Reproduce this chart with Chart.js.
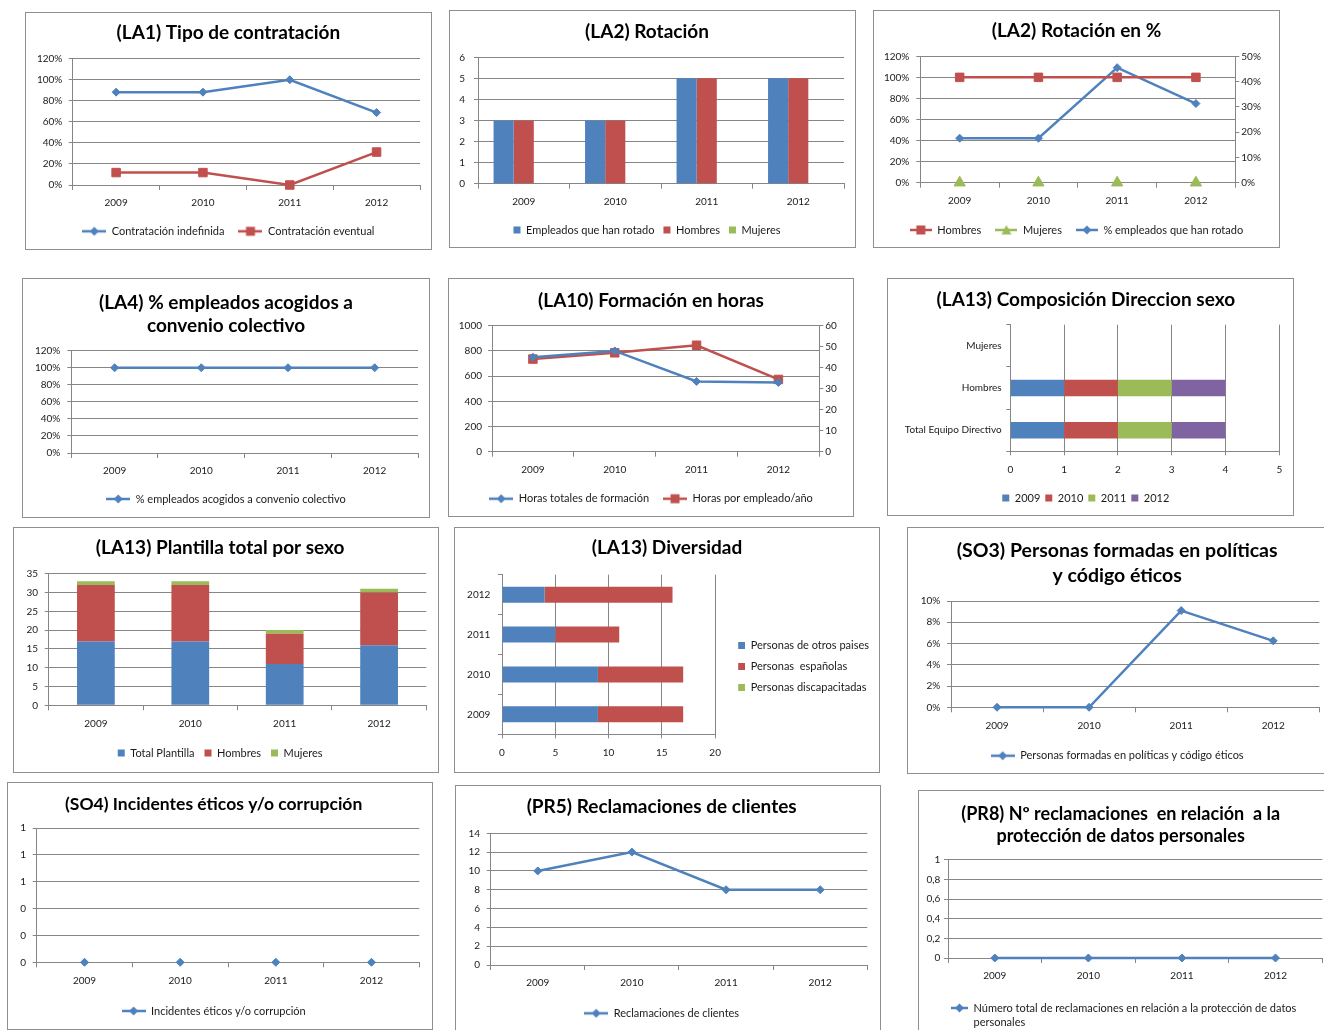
<!DOCTYPE html>
<html lang="es">
<head>
<meta charset="utf-8">
<title>Indicadores sociales 2009-2012</title>
<script src="https://cdn.jsdelivr.net/npm/chart.js@4.4.1/dist/chart.umd.min.js"></script>
<style>
  html, body { margin: 0; padding: 0; background: #fff; width: 1324px; height: 1030px; overflow: hidden; }
  .panel { position: absolute; box-sizing: border-box; border: 1px solid #8f8f8f; background: #fff; }
  .panel canvas { position: absolute; left: 0; top: 0; }
</style>
</head>
<body>
<script>
// ---- data ----
const years = ['2009', '2010', '2011', '2012'];

const contratacionIndefinida = [88.2, 88.2, 100, 68.8];
const contratacionEventual = [11.8, 11.8, 0, 31.3];

const rotadoEmpleados = [3, 3, 5, 5];
const rotadoHombres = [3, 3, 5, 5];
const rotadoMujeres = [0, 0, 0, 0];

const rotacionPctHombres = [100, 100, 100, 100];
const rotacionPctMujeres = [0, 0, 0, 0];
const rotacionPctEmpleados = [17.6, 17.6, 45.5, 31.3];

const convenioColectivo = [100, 100, 100, 100];

const horasTotales = [750, 800, 558, 550];
const horasPorEmpleado = [44.1, 47.1, 50.7, 34.4];

const direccionCategorias = ['Total Equipo Directivo', 'Hombres', 'Mujeres'];
const direccion2009 = [1, 1, 0];
const direccion2010 = [1, 1, 0];
const direccion2011 = [1, 1, 0];
const direccion2012 = [1, 1, 0];

const plantillaTotal = [17, 17, 11, 16];
const plantillaHombres = [15, 15, 8, 14];
const plantillaMujeres = [1, 1, 1, 1];

const otrosPaises = [9, 9, 5, 4];
const espanolas = [8, 8, 6, 12];
const discapacitadas = [0, 0, 0, 0];

const formadasEtica = [0, 0, 9.1, 6.25];
const incidentesEticos = [0, 0, 0, 0];
const reclamacionesClientes = [10, 12, 8, 8];
const reclamacionesDatos = [0, 0, 0, 0];

// ---- look ----
const BLUE = '#4f81bd', RED = '#c0504d', GREEN = '#9bbb59', PURPLE = '#8064a2';
const GRID = '#868686';
const INK = '#1a1a1a';
const FONT = "Lato, 'Open Sans', sans-serif";
const TICK = 10, LEG = 11;

// panel box, plot area (left, top, right, bottom) and text rows, in page pixels
const frames = {
  la1:   {panel: [25, 12, 407, 238], plot: [72.7, 58.7, 420, 185], title: [32.7], legendY: 231.3, yPad: 6.4, legPad: 14},
  la2:   {panel: [449, 10, 407, 238], plot: [478, 57.3, 844, 183.7], title: [31.7], legendY: 230, yPad: 9, legPad: 9},
  la2p:  {panel: [873, 10, 407, 238], plot: [920.3, 56.3, 1235.3, 182.7], title: [30.7], legendY: 230, yPad: 7, rightAxis: true, legPad: 14},
  la4:   {panel: [22, 278, 408, 240], plot: [71.3, 350.7, 418, 453], title: [303, 326.3], legendY: 499, yPad: 7},
  la10:  {panel: [448, 278, 406, 239], plot: [492, 325.7, 819.3, 451.7], title: [300.7], legendY: 498.7, yPad: 6, rightAxis: true},
  comp:  {panel: [887, 278, 407, 238], plot: [1010.3, 324.7, 1279.3, 451.3], title: [299.7], legendY: 498, yPad: 4.6, legPad: 5, yNeed: 118},
  plant: {panel: [13, 527, 426, 246], plot: [48.7, 573.7, 426.3, 705.3], title: [548], legendY: 753, yPad: 6.7, legPad: 10},
  div:   {panel: [454, 527, 426, 246], plot: [502, 574.7, 716.3, 734.3], title: [548], xAxisH: 25, legendFirstY: 645.3, legendItems: 3, yPad: 7.7, legPad: 10},
  so3:   {panel: [907, 527, 425, 247], plot: [951, 601, 1319.3, 707.3], title: [550.3, 575.3], titleSize: 19.5, legendY: 755.7, yPad: 6.7},
  so4:   {panel: [7, 782, 426, 248], plot: [36.7, 828, 419.3, 962.3], title: [804.7], titleSize: 17.5, legendY: 1011, yPad: 6.7},
  pr5:   {panel: [455, 785, 426, 246], plot: [490.7, 833.3, 867.3, 965], title: [807.3], legendY: 1013.3, yPad: 6.7},
  pr8:   {panel: [918, 790, 412, 242], plot: [948, 859.7, 1322.3, 958], title: [814, 836.3], titleSize: 18, legendY: 1008, legendIconX: 951, legendExtra: 6, yPad: 3.7}
};

const plain = v => String(v);
const pct = v => v + '%';
const whole = v => String(Math.round(v));
const decimalComma = v => String(Math.round(v * 10) / 10).replace('.', ',');

const measureCtx = document.createElement('canvas').getContext('2d');
function textWidth(s) {
  measureCtx.font = LEG + 'px ' + FONT;
  return measureCtx.measureText(s).width;
}

// legend swatch: line with the series marker in the middle
function lineIcon(color, style, w, x0) {
  x0 = x0 || 0;
  const c = document.createElement('canvas');
  c.width = w; c.height = 12;
  const g = c.getContext('2d');
  g.strokeStyle = color; g.fillStyle = color; g.lineWidth = 2.5;
  g.beginPath(); g.moveTo(x0, 6); g.lineTo(w, 6); g.stroke();
  const m = (x0 + w) / 2;
  g.beginPath();
  if (style === 'rectRot') {
    g.moveTo(m, 1.5); g.lineTo(m + 4.5, 6); g.lineTo(m, 10.5); g.lineTo(m - 4.5, 6);
  } else if (style === 'rect') {
    g.rect(m - 4.5, 1.5, 9, 9);
  } else {
    g.moveTo(m, 1); g.lineTo(m + 5, 10.5); g.lineTo(m - 5, 10.5);
  }
  g.closePath(); g.fill();
  return c;
}

// small square pushed to the right end of a wider swatch
function boxIcon(color, w) {
  const c = document.createElement('canvas');
  c.width = w; c.height = 7;
  const g = c.getContext('2d');
  g.fillStyle = color;
  g.fillRect(w - 7, 0, 7, 7);
  return c;
}

function defaultLabels(chart) {
  return Chart.defaults.plugins.legend.labels.generateLabels(chart);
}

function lineSet(label, data, color, style, radius, axis) {
  return {
    label, data, yAxisID: axis || 'y', clip: 12,
    borderColor: color, backgroundColor: color, borderWidth: 2.5,
    pointStyle: style, pointRadius: radius, pointHoverRadius: radius,
    pointBackgroundColor: color, pointBorderColor: color, pointBorderWidth: 1
  };
}

function barSet(label, data, color, cat) {
  return {label, data, backgroundColor: color, borderWidth: 0, categoryPercentage: cat, barPercentage: 1};
}

function catX(L) {
  return {
    type: 'category', offset: true,
    grid: {offset: true, drawOnChartArea: false, drawTicks: true, tickLength: 5, color: GRID},
    border: {display: true, color: GRID},
    ticks: {color: INK, font: {family: FONT, size: TICK}, padding: 7, autoSkip: false, maxRotation: 0},
    afterFit: s => { s.height = L.xH; }
  };
}

function valY(L, min, max, step, fmt, right) {
  return {
    type: 'linear', position: right ? 'right' : 'left', min, max,
    grid: {color: GRID, drawTicks: true, tickLength: 4, drawOnChartArea: !right},
    border: {display: true, color: GRID},
    ticks: {stepSize: step, color: INK, font: {family: FONT, size: TICK}, padding: right ? 2 : L.yPad, callback: fmt || plain},
    afterFit: s => { s.width = right ? L.rW : L.yW; }
  };
}

// horizontal bars: value axis at the bottom, categories down the left
function valX(L, max, step) {
  return {
    type: 'linear', position: 'bottom', min: 0, max, stacked: true,
    grid: {color: GRID, drawTicks: true, tickLength: 4},
    border: {display: true, color: GRID},
    ticks: {stepSize: step, color: INK, font: {family: FONT, size: TICK}, padding: 8, callback: plain},
    afterFit: s => { s.height = L.xH; }
  };
}

function catY(L) {
  return {
    type: 'category', position: 'left', reverse: true, stacked: true, offset: true,
    grid: {offset: true, drawOnChartArea: false, drawTicks: true, tickLength: 4, color: GRID},
    border: {display: true, color: GRID},
    ticks: {color: INK, font: {family: FONT, size: TICK}, padding: L.yPad, autoSkip: false},
    afterFit: s => { s.width = L.yW; }
  };
}

function lineLegend(L, icons, iconW) {
  return {
    position: 'bottom',
    labels: {
      usePointStyle: true, pointStyleWidth: iconW, padding: L.legPad, color: INK,
      font: {family: FONT, size: LEG},
      generateLabels: chart => defaultLabels(chart).map((it, i) => Object.assign(it, {pointStyle: icons[i]}))
    }
  };
}

function boxLegend(L) {
  return {
    position: 'bottom',
    labels: {boxWidth: 7, boxHeight: 7, padding: L.legPad, color: INK, font: {family: FONT, size: LEG}}
  };
}

// gives the legend box extra height underneath (for a wrapped second line)
function tallLegend(extra) {
  return {
    id: 'tallLegend',
    beforeLayout(chart) {
      const lg = chart.legend;
      if (!lg || lg._tall) return;
      const fit = lg.fit.bind(lg);
      lg.fit = function () { fit(); this.height += extra; };
      lg._tall = true;
    }
  };
}

function makeChart(f, titleText, build) {
  const [px, py, pw, ph] = f.panel;
  const cx = px + 1, cy = py + 1, W = pw - 2, H = ph - 2;
  const box = document.createElement('div');
  box.className = 'panel';
  box.style.left = px + 'px'; box.style.top = py + 'px';
  box.style.width = pw + 'px'; box.style.height = ph + 'px';
  const canvas = document.createElement('canvas');
  canvas.width = W; canvas.height = H;
  box.appendChild(canvas);
  document.body.appendChild(box);

  const [l, t, r, b] = f.plot;
  const ts = f.titleSize || 19;
  const n = titleText.length;
  const lh = n > 1 ? f.title[1] - f.title[0] : ts * 1.2;
  const titleTop = f.title[0] - cy - lh / 2;
  const titleBottom = (t - cy) - titleTop - n * lh;

  const L = {cx, legPad: f.legPad || 14, yPad: f.yPad || 6.5};
  if (f.rightAxis) {
    L.side = 0;
    L.rW = W - (r - cx);
  } else if (f.legendW) {
    L.side = Math.max(0, W - (r - cx) - f.legendW);
  } else {
    L.side = W - (r - cx);
  }
  const need = f.yNeed || 36;
  L.padLeft = f.rightAxis ? 0 : Math.min(L.side, Math.max(0, (l - cx) - need));
  L.yW = (l - cx) - L.padLeft;

  if (f.legendY) {
    const legTop = f.legendY - cy - L.legPad - LEG / 2;
    L.padBottom = H - legTop - (LEG + L.legPad + 10 + (f.legendExtra || 0));
    L.xH = legTop - (b - cy);
  } else {
    L.xH = f.xAxisH;
    L.padBottom = H - (b - cy) - f.xAxisH;
  }
  if (f.legendFirstY) {
    // right-hand legend: room above the items so they sit where the original has them
    const cursorY = f.legendFirstY - cy - LEG / 2;
    const colH = f.legendItems * (LEG + L.legPad);
    L.legTitleH = 2 * cursorY - L.legPad - (H - L.padBottom) + colH;
  }

  const opts = (scales, legend) => ({
    responsive: false, animation: false, events: [],
    layout: {padding: {left: L.padLeft, right: L.side, top: 0, bottom: L.padBottom}},
    scales,
    plugins: {
      title: {
        display: true, text: titleText, color: '#000',
        font: {family: FONT, size: ts, weight: 'bold', lineHeight: lh / ts},
        padding: {top: titleTop, bottom: titleBottom}
      },
      legend,
      tooltip: {enabled: false}
    }
  });
  return new Chart(canvas, build(L, opts));
}

// (LA1)
makeChart(frames.la1, ['(LA1) Tipo de contratación'], (L, opts) => ({
  type: 'line',
  data: {labels: years, datasets: [
    lineSet('Contratación indefinida', contratacionIndefinida, BLUE, 'rectRot', 4),
    lineSet('Contratación eventual', contratacionEventual, RED, 'rect', 6)
  ]},
  options: opts({x: catX(L), y: valY(L, 0, 120, 20, pct)},
    lineLegend(L, [lineIcon(BLUE, 'rectRot', 24), lineIcon(RED, 'rect', 24)], 24))
}));

// (LA2) Rotación
makeChart(frames.la2, ['(LA2) Rotación'], (L, opts) => ({
  type: 'bar',
  data: {labels: years, datasets: [
    barSet('Empleados que han rotado', rotadoEmpleados, BLUE, 0.66),
    barSet('Hombres', rotadoHombres, RED, 0.66),
    barSet('Mujeres', rotadoMujeres, GREEN, 0.66)
  ]},
  options: opts({x: catX(L), y: valY(L, 0, 6, 1)}, boxLegend(L))
}));

// (LA2) Rotación en %
makeChart(frames.la2p, ['(LA2) Rotación en %'], (L, opts) => ({
  type: 'line',
  data: {labels: years, datasets: [
    lineSet('Hombres', rotacionPctHombres, RED, 'rect', 6),
    Object.assign(lineSet('Mujeres', rotacionPctMujeres, GREEN, 'triangle', 6.5), {showLine: false}),
    lineSet('% empleados que han rotado', rotacionPctEmpleados, BLUE, 'rectRot', 4, 'y1')
  ]},
  options: opts({
    x: catX(L),
    y: valY(L, 0, 120, 20, pct),
    y1: valY(L, 0, 50, 10, pct, true)
  }, lineLegend(L, [lineIcon(RED, 'rect', 22), lineIcon(GREEN, 'triangle', 22), lineIcon(BLUE, 'rectRot', 22)], 22))
}));

// (LA4)
makeChart(frames.la4, ['(LA4) % empleados acogidos a', 'convenio colectivo'], (L, opts) => ({
  type: 'line',
  data: {labels: years, datasets: [
    lineSet('% empleados acogidos a convenio colectivo', convenioColectivo, BLUE, 'rectRot', 4)
  ]},
  options: opts({x: catX(L), y: valY(L, 0, 120, 20, pct)},
    lineLegend(L, [lineIcon(BLUE, 'rectRot', 24)], 24))
}));

// (LA10)
makeChart(frames.la10, ['(LA10) Formación en horas'], (L, opts) => ({
  type: 'line',
  data: {labels: years, datasets: [
    lineSet('Horas totales de formación', horasTotales, BLUE, 'rectRot', 4),
    lineSet('Horas por empleado/año', horasPorEmpleado, RED, 'rect', 6, 'y1')
  ]},
  options: opts({
    x: catX(L),
    y: valY(L, 0, 1000, 200),
    y1: valY(L, 0, 60, 10, null, true)
  }, lineLegend(L, [lineIcon(BLUE, 'rectRot', 24), lineIcon(RED, 'rect', 24)], 24))
}));

// (LA13) Composición Direccion sexo
makeChart(frames.comp, ['(LA13) Composición Direccion sexo'], (L, opts) => ({
  type: 'bar',
  data: {labels: direccionCategorias, datasets: [
    barSet('2009', direccion2009, BLUE, 0.39),
    barSet('2010', direccion2010, RED, 0.39),
    barSet('2011', direccion2011, GREEN, 0.39),
    barSet('2012', direccion2012, PURPLE, 0.39)
  ]},
  options: Object.assign(opts({x: valX(L, 5, 1), y: catY(L)}, boxLegend(L)), {indexAxis: 'y'})
}));

// (LA13) Plantilla total por sexo
makeChart(frames.plant, ['(LA13) Plantilla total por sexo'], (L, opts) => ({
  type: 'bar',
  data: {labels: years, datasets: [
    barSet('Total Plantilla', plantillaTotal, BLUE, 0.4),
    barSet('Hombres', plantillaHombres, RED, 0.4),
    barSet('Mujeres', plantillaMujeres, GREEN, 0.4)
  ]},
  options: opts({
    x: Object.assign(catX(L), {stacked: true}),
    y: Object.assign(valY(L, 0, 35, 5), {stacked: true})
  }, boxLegend(L))
}));

// (LA13) Diversidad
const diversidadLabels = ['Personas de otros paises', 'Personas  españolas', 'Personas discapacitadas'];
frames.div.legendW = frames.div.legPad + 20 + LEG / 2 + Math.max(...diversidadLabels.map(textWidth)) + 10;
makeChart(frames.div, ['(LA13) Diversidad'], (L, opts) => {
  const icons = [boxIcon(BLUE, 20), boxIcon(RED, 20), boxIcon(GREEN, 20)];
  const legend = {
    position: 'right', maxWidth: 260,
    labels: {
      usePointStyle: true, pointStyleWidth: 20, padding: L.legPad, color: INK,
      font: {family: FONT, size: LEG},
      generateLabels: chart => defaultLabels(chart).map((it, i) => Object.assign(it, {pointStyle: icons[i]}))
    },
    title: {display: true, text: '', font: {size: 10}, padding: {top: 0, bottom: L.legTitleH - 12}}
  };
  return {
    type: 'bar',
    data: {labels: years, datasets: [
      barSet(diversidadLabels[0], otrosPaises, BLUE, 0.4),
      barSet(diversidadLabels[1], espanolas, RED, 0.4),
      barSet(diversidadLabels[2], discapacitadas, GREEN, 0.4)
    ]},
    options: Object.assign(opts({x: valX(L, 20, 5), y: catY(L)}, legend), {indexAxis: 'y'})
  };
});

// (SO3)
makeChart(frames.so3, ['(SO3) Personas formadas en políticas', 'y código éticos'], (L, opts) => ({
  type: 'line',
  data: {labels: years, datasets: [
    lineSet('Personas formadas en políticas y código éticos', formadasEtica, BLUE, 'rectRot', 4)
  ]},
  options: opts({x: catX(L), y: valY(L, 0, 10, 2, pct)},
    lineLegend(L, [lineIcon(BLUE, 'rectRot', 24)], 24))
}));

// (SO4)
makeChart(frames.so4, ['(SO4) Incidentes éticos y/o corrupción'], (L, opts) => ({
  type: 'line',
  data: {labels: years, datasets: [
    Object.assign(lineSet('Incidentes éticos y/o corrupción', incidentesEticos, BLUE, 'rectRot', 4), {showLine: false})
  ]},
  options: opts({x: catX(L), y: valY(L, 0, 1, 0.2, whole)},
    lineLegend(L, [lineIcon(BLUE, 'rectRot', 24)], 24))
}));

// (PR5)
makeChart(frames.pr5, ['(PR5) Reclamaciones de clientes'], (L, opts) => ({
  type: 'line',
  data: {labels: years, datasets: [
    lineSet('Reclamaciones de clientes', reclamacionesClientes, BLUE, 'rectRot', 4)
  ]},
  options: opts({x: catX(L), y: valY(L, 0, 14, 2)},
    lineLegend(L, [lineIcon(BLUE, 'rectRot', 24)], 24))
}));

// (PR8)
makeChart(frames.pr8, ['(PR8) Nº reclamaciones  en relación  a la', 'protección de datos personales'], (L, opts) => {
  const x0 = Math.max(0, frames.pr8.legendIconX - L.cx - L.padLeft - L.legPad);
  const icon = lineIcon(BLUE, 'rectRot', x0 + 17, x0);
  const legend = {
    position: 'bottom', align: 'start',
    labels: {
      usePointStyle: true, pointStyleWidth: x0 + 17, padding: L.legPad, color: INK,
      font: {family: FONT, size: LEG, lineHeight: 14 / LEG},
      generateLabels: chart => defaultLabels(chart).map(it => Object.assign(it, {
        pointStyle: icon,
        text: ['Número total de reclamaciones en relación a la protección de datos', 'personales']
      }))
    }
  };
  return {
    type: 'line',
    data: {labels: years, datasets: [
      lineSet('Número total de reclamaciones en relación a la protección de datos personales', reclamacionesDatos, BLUE, 'rectRot', 4)
    ]},
    options: opts({x: catX(L), y: valY(L, 0, 1, 0.2, decimalComma)}, legend),
    plugins: [tallLegend(frames.pr8.legendExtra)]
  };
});
</script>
</body>
</html>
